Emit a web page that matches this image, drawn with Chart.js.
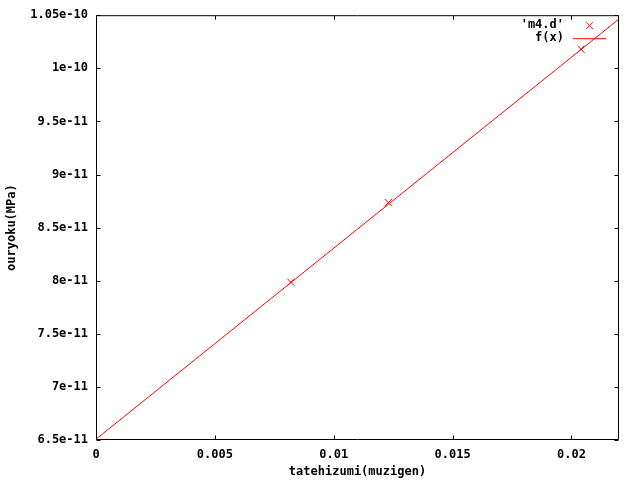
<!DOCTYPE html>
<html lang="en">
<head>
<meta charset="UTF-8">
<title>ouryoku vs tatehizumi</title>
<script src="https://cdn.jsdelivr.net/npm/chart.js"></script>
<style>
  body { margin: 0; background: #fff; }
  #wrap { width: 640px; height: 480px; }
</style>
</head>
<body>
<div id="wrap"><canvas id="chart" width="640" height="480"></canvas></div>
<script>
// measured points ('m4.d')
const strainPts = [0.0082, 0.0123, 0.0204];
const stressPts = [7.985e-11, 8.735e-11, 1.018e-10];
// fitted line f(x), taken at both ends of the x range
const fitX = [0, 0.022];
const fitY = [6.508e-11, 1.0464e-10];

const xTicks = [0, 0.005, 0.01, 0.015, 0.02];
const xTickLabels = ['0', '0.005', '0.01', '0.015', '0.02'];
const yTicks = [6.5e-11, 7e-11, 7.5e-11, 8e-11, 8.5e-11, 9e-11, 9.5e-11, 1e-10, 1.05e-10];
const yTickLabels = ['6.5e-11', '7e-11', '7.5e-11', '8e-11', '8.5e-11', '9e-11', '9.5e-11', '1e-10', '1.05e-10'];

const RED = '#ff0000';
const FONT = { family: "'DejaVu Sans Mono', monospace", size: 12, weight: 'bold' };

// gnuplot style frame: border plus inward ticks on all four sides
const framePlugin = {
    id: 'frame',
    afterDraw(chart) {
        const c = chart.ctx, a = chart.chartArea;
        const L = a.left + 0.5, R = a.right - 0.5, T = a.top + 0.5, B = a.bottom - 0.5;
        c.save();
        c.strokeStyle = '#000';
        c.lineWidth = 1;
        c.beginPath();
        c.rect(L, T, R - L, B - T);
        chart.scales.x.ticks.forEach(t => {
            const px = Math.round(chart.scales.x.getPixelForValue(t.value)) + 0.5;
            c.moveTo(px, B); c.lineTo(px, B - 4);
            c.moveTo(px, T); c.lineTo(px, T + 4);
        });
        chart.scales.y.ticks.forEach(t => {
            const py = Math.round(chart.scales.y.getPixelForValue(t.value)) + 0.5;
            c.moveTo(L, py); c.lineTo(L + 4, py);
            c.moveTo(R, py); c.lineTo(R - 4, py);
        });
        c.stroke();

        // key, top right
        c.font = `bold ${FONT.size}px ${FONT.family}`;
        c.fillStyle = '#000';
        c.textAlign = 'right';
        c.textBaseline = 'middle';
        const tx = a.right - 55;
        c.fillText(chart.data.datasets[0].label, tx, a.top + 10);
        c.fillText(chart.data.datasets[1].label, tx, a.top + 23);
        c.strokeStyle = RED;
        c.beginPath();
        const mx = tx + 25.5, my = a.top + 10.5;
        c.moveTo(mx - 3.5, my - 3.5); c.lineTo(mx + 3.5, my + 3.5);
        c.moveTo(mx - 3.5, my + 3.5); c.lineTo(mx + 3.5, my - 3.5);
        c.moveTo(tx + 9, a.top + 23.5); c.lineTo(tx + 42, a.top + 23.5);
        c.stroke();
        c.restore();
    }
};

new Chart(document.getElementById('chart'), {
    type: 'scatter',
    data: {
        datasets: [{
            label: "'m4.d'",
            data: strainPts.map((x, i) => ({ x: x, y: stressPts[i] })),
            pointStyle: 'crossRot',
            pointRadius: 5,
            pointBorderWidth: 1,
            borderColor: RED,
            backgroundColor: RED,
            showLine: false
        }, {
            label: 'f(x)',
            data: fitX.map((x, i) => ({ x: x, y: fitY[i] })),
            showLine: true,
            pointRadius: 0,
            borderWidth: 1,
            borderColor: RED,
            backgroundColor: RED
        }]
    },
    options: {
        responsive: false,
        animation: false,
        devicePixelRatio: 1,
        layout: { padding: { left: 0, top: 13, right: 21, bottom: 0 } },
        plugins: { legend: { display: false }, tooltip: { enabled: false } },
        scales: {
            x: {
                type: 'linear',
                min: 0,
                max: 0.022,
                afterBuildTicks: s => { s.ticks = xTicks.map(v => ({ value: v })); },
                afterFit: s => { s.height = 40; },
                grid: { display: false, drawTicks: false },
                border: { display: false },
                ticks: {
                    color: '#000', font: FONT, padding: 8, maxRotation: 0, autoSkip: false,
                    callback: (v, i) => xTickLabels[i]
                },
                title: { display: true, text: 'tatehizumi(muzigen)', color: '#000', font: FONT, padding: { top: 0, bottom: 1 } }
            },
            y: {
                type: 'linear',
                min: 6.5e-11,
                max: 1.05e-10,
                afterBuildTicks: s => { s.ticks = yTicks.map(v => ({ value: v })); },
                afterFit: s => { s.width = 96; },
                grid: { display: false, drawTicks: false },
                border: { display: false },
                ticks: {
                    color: '#000', font: FONT, padding: 8, autoSkip: false,
                    callback: (v, i) => yTickLabels[i]
                },
                title: { display: true, text: 'ouryoku(MPa)', color: '#000', font: FONT, padding: { top: 5, bottom: 0 } }
            }
        }
    },
    plugins: [framePlugin]
});
</script>
</body>
</html>
